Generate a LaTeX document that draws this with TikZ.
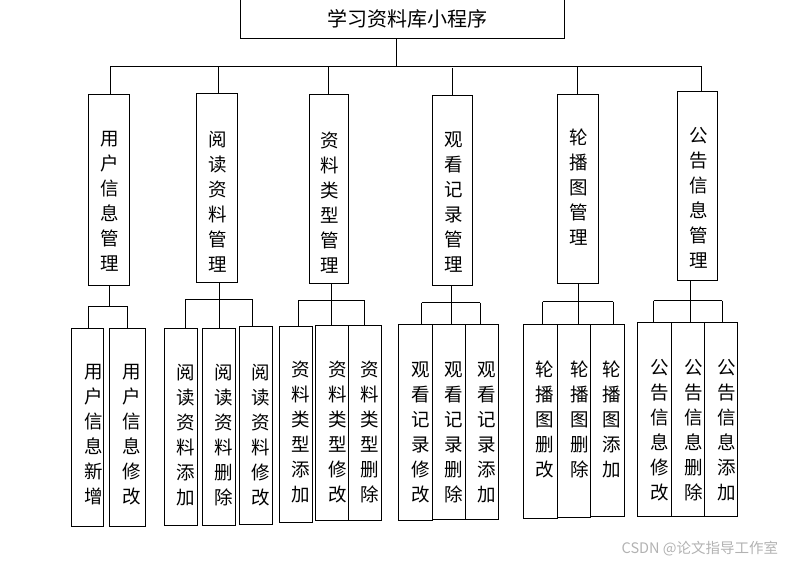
\documentclass[tikz,border=0pt]{standalone}
\usepackage{fontspec}
\newfontfamily\cjk{Noto Sans CJK SC}
\usetikzlibrary{fit}
\tikzset{
  box/.style={draw, line width=1pt, inner sep=0pt},
  ln/.style={line width=1pt},
  vt/.style={font=\cjk\fontsize{18.5}{25}\selectfont, align=center, inner sep=0pt},
  tt/.style={font=\cjk\fontsize{20}{24}\selectfont, inner sep=0pt},
  wm/.style={font=\cjk\fontsize{14.5}{16}\selectfont, text=black!30, inner sep=0pt}
}
\begin{document}
\begin{tikzpicture}[x=1pt,y=-1pt]
\path[use as bounding box] (0,0) rectangle (786,562);
% root
\node[box, fit={(240,-3) (564,38.3)}] (root) {};
\node[tt] (t0) at (407,19) {学习资料库小程序};
% bus
\coordinate (b0) at (396.3,66.3);
\coordinate (bL) at (110.3,66.3);
\coordinate (bR) at (702.3,66.3);
\draw[ln] (root.south -| b0) -- (b0);
\draw[ln] (bL) -- (bR);
% level 1 boxes
\node[box, fit={(88.3,94.3) (129.3,285.3)}] (A) {};
\node[box, fit={(196.3,93.7) (237.3,282.3)}] (B) {};
\node[box, fit={(309.3,94.3) (348.3,283.3)}] (C) {};
\node[box, fit={(432.3,95.3) (472.3,285.3)}] (D) {};
\node[box, fit={(557.3,94.3) (598.3,283.3)}] (E) {};
\node[box, fit={(677.3,91.3) (717.3,280.3)}] (F) {};
\node[vt] (tA) at (109.3,201.3) {用\\户\\信\\息\\管\\理};
\node[vt] (tB) at (217.7,201.3) {阅\\读\\资\\料\\管\\理};
\node[vt] (tC) at (330.2,202.5) {资\\料\\类\\型\\管\\理};
\node[vt] (tD) at (453.3,202.5) {观\\看\\记\\录\\管\\理};
\node[vt] (tE) at (579.0,187.2) {轮\\播\\图\\管\\理};
\node[vt] (tF) at (699.0,198.0) {公\\告\\信\\息\\管\\理};
% bus drops
\coordinate (dA) at (110.3,66.3);
\coordinate (dB) at (218.3,66.3);
\coordinate (dC) at (328.3,66.3);
\coordinate (dD) at (452.3,68);
\coordinate (dE) at (577.3,66.3);
\coordinate (dF) at (701.3,66.3);
\draw[ln] (dA) -- (dA |- A.north);
\draw[ln] (dB) -- (dB |- B.north);
\draw[ln] (dC) -- (dC |- C.north);
\draw[ln] (dD) -- (dD |- D.north);
\draw[ln] (dE) -- (dE |- E.north);
\draw[ln] (dF) -- (dF |- F.north);
% level 2 boxes
\node[box, fit={(71.7,328.3) (103.3,526)}] (A1) {};
\node[box, fit={(109.3,328.3) (145.3,526)}] (A2) {};
\node[box, fit={(164.3,328.3) (197.3,525)}] (B1) {};
\node[box, fit={(202.3,328.3) (235.3,525)}] (B2) {};
\node[box, fit={(239.3,326) (272.3,524)}] (B3) {};
\node[box, fit={(279.3,326) (312.3,522.3)}] (C1) {};
\node[box, fit={(315.7,325) (348.3,520.7)}] (C2) {};
\node[box, fit={(348.3,325) (381.3,520.7)}] (C3) {};
\node[box, fit={(398.3,324.3) (432.3,520)}] (D1) {};
\node[box, fit={(432.3,324.3) (465.7,519.3)}] (D2) {};
\node[box, fit={(465.7,324.3) (498.3,519.3)}] (D3) {};
\node[box, fit={(523.7,324.3) (557.3,518.3)}] (E1) {};
\node[box, fit={(557.3,324.3) (590.7,517.3)}] (E2) {};
\node[box, fit={(590.7,324.3) (624.3,516)}] (E3) {};
\node[box, fit={(637.7,322.3) (671.7,516)}] (F1) {};
\node[box, fit={(671.7,322.3) (704,516)}] (F2) {};
\node[box, fit={(704,322.3) (737.3,516)}] (F3) {};
% level 2 texts
\node[vt] (tA1) at (93.3,434.7) {用\\户\\信\\息\\新\\增};
\node[vt] (tA2) at (131.7,434.7) {用\\户\\信\\息\\修\\改};
\node[vt] (tB1) at (186,434.7) {阅\\读\\资\\料\\添\\加};
\node[vt] (tB2) at (224,434.7) {阅\\读\\资\\料\\删\\除};
\node[vt] (tB3) at (261,434.7) {阅\\读\\资\\料\\修\\改};
\node[vt] (tC1) at (300.7,432.3) {资\\料\\类\\型\\添\\加};
\node[vt] (tC2) at (337.3,432.3) {资\\料\\类\\型\\修\\改};
\node[vt] (tC3) at (370,432.3) {资\\料\\类\\型\\删\\除};
\node[vt] (tD1) at (420.7,432.3) {观\\看\\记\\录\\修\\改};
\node[vt] (tD2) at (453.3,432.3) {观\\看\\记\\录\\删\\除};
\node[vt] (tD3) at (486.7,432.3) {观\\看\\记\\录\\添\\加};
\node[vt] (tE1) at (545,419.8) {轮\\播\\图\\删\\改};
\node[vt] (tE2) at (579.3,419.8) {轮\\播\\图\\删\\除};
\node[vt] (tE3) at (611.7,419.8) {轮\\播\\图\\添\\加};
\node[vt] (tF1) at (660,430.3) {公\\告\\信\\息\\修\\改};
\node[vt] (tF2) at (693.3,430.3) {公\\告\\信\\息\\删\\除};
\node[vt] (tF3) at (726.7,430.3) {公\\告\\信\\息\\添\\加};
% group connectors
% A
\coordinate (jA) at (109.3,306);
\coordinate (jA1) at (88.3,306);
\coordinate (jA2) at (127.3,306);
\draw[ln] (jA |- A.south) -- (jA);
\draw[ln] (jA1) -- (jA2);
\draw[ln] (jA1) -- (jA1 |- A1.north);
\draw[ln] (jA2) -- (jA2 |- A2.north);
% B
\coordinate (jB) at (219.3,299.3);
\coordinate (jB1) at (185.3,299.3);
\coordinate (jB3) at (252.7,299.3);
\draw[ln] (jB |- B.south) -- (jB |- B2.north);
\draw[ln] (jB1) -- (jB3);
\draw[ln] (jB1) -- (jB1 |- B1.north);
\draw[ln] (jB3) -- (jB3 |- B3.north);
% C
\coordinate (jC) at (331.3,300.3);
\coordinate (jC1) at (298.3,300.3);
\coordinate (jC3) at (364,300.3);
\draw[ln] (jC |- C.south) -- (jC |- C2.north);
\draw[ln] (jC1) -- (jC3);
\draw[ln] (jC1) -- (jC1 |- C1.north);
\draw[ln] (jC3) -- (jC3 |- C3.north);
% D
\coordinate (jD) at (451.3,302.7);
\coordinate (jD1) at (421.7,302.7);
\coordinate (jD3) at (480.3,302.7);
\draw[ln] (jD |- D.south) -- (jD |- D2.north);
\draw[ln] (jD1) -- (jD3);
\draw[ln] (jD1) -- (jD1 |- D1.north);
\draw[ln] (jD3) -- (jD3 |- D3.north);
% E
\coordinate (jE) at (578.7,301.7);
\coordinate (jE1) at (542.7,301.7);
\coordinate (jE3) at (613.3,301.7);
\draw[ln] (jE |- E.south) -- (jE |- E2.north);
\draw[ln] (jE1) -- (jE3);
\draw[ln] (jE1) -- (jE1 |- E1.north);
\draw[ln] (jE3) -- (jE3 |- E3.north);
% F
\coordinate (jF) at (690.7,300.7);
\coordinate (jF1) at (653.7,300.7);
\coordinate (jF3) at (722.3,300.7);
\draw[ln] (jF |- F.south) -- (jF |- F2.north);
\draw[ln] (jF1) -- (jF3);
\draw[ln] (jF1) -- (jF1 |- F1.north);
\draw[ln] (jF3) -- (jF3 |- F3.north);
% watermark
\node[wm, anchor=east] (wm) at (778.3,548.3) {CSDN @论文指导工作室};
\end{tikzpicture}
\end{document}
